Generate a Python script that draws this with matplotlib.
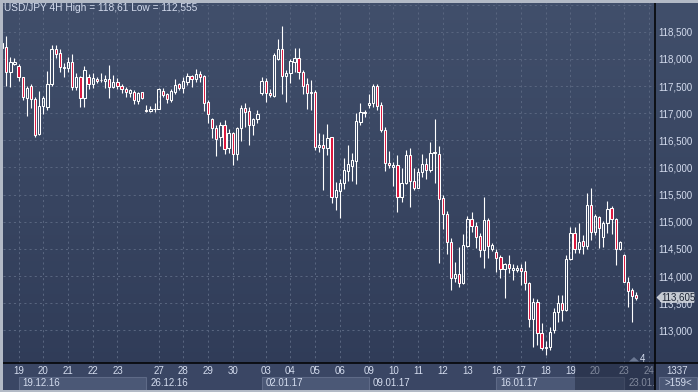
import numpy as np
import matplotlib
matplotlib.use("Agg")
import matplotlib.pyplot as plt
from matplotlib.patches import Rectangle, Polygon
from matplotlib.lines import Line2D
from matplotlib.colors import LinearSegmentedColormap

plt.rcParams['font.family'] = ['Liberation Sans', 'DejaVu Sans']

title = 'USD/JPY 4H High = 118,61 Low = 112,555'

# 4H candles, the first one is cut off by the left edge of the chart
first_bar = -1
opens = [118.205, 118.213, 117.752, 117.911, 117.863, 117.660, 117.285, 117.495, 117.261, 116.616,
         117.132, 117.119, 117.531, 118.181, 118.102, 117.826, 117.826, 117.942, 117.487, 117.660,
         117.274, 117.660, 117.531, 117.629, 117.616, 117.592, 117.629, 117.487, 117.579, 117.500,
         117.439, 117.377, 117.395, 117.229, 117.390, 117.058, 117.040, 117.071, 117.082, 117.408,
         117.353, 117.242, 117.395, 117.531, 117.458, 117.579, 117.684, 117.623, 117.721, 117.684,
         117.211, 116.887, 116.732, 116.555, 116.776, 116.353, 116.629, 116.242, 116.721, 117.089,
         117.045, 116.782, 116.892, 117.377, 117.598, 117.377, 117.325, 117.992, 118.176, 117.693,
         117.734, 117.948, 118.010, 117.763, 117.531, 117.366, 117.384, 116.386, 116.408, 116.353,
         116.555, 115.461, 115.572, 115.719, 115.940, 116.027, 116.124, 116.843, 117.008, 117.145,
         117.181, 117.500, 117.145, 116.690, 116.076, 116.014, 116.045, 115.450, 115.708, 116.224,
         115.750, 115.627, 115.922, 116.064, 115.953, 116.261, 116.248, 115.432, 115.137, 114.633,
         113.970, 114.032, 113.866, 114.559, 115.045, 114.927, 114.738, 114.480, 115.032, 114.493,
         114.449, 114.345, 114.124, 114.216, 114.112, 114.112, 114.143, 114.093, 113.866, 113.215,
         113.517, 112.946, 112.670, 112.699, 113.006, 113.333, 113.498, 113.375, 114.309, 114.787,
         114.498, 114.646, 114.553, 115.309, 114.806, 115.093, 114.725, 114.983, 115.248, 115.045,
         114.493, 114.388, 113.896, 113.743, 113.651]
highs = [118.292, 118.421, 118.040, 118.010, 117.900, 117.670, 117.500, 117.531, 117.303, 117.408,
         117.316, 117.782, 118.255, 118.255, 118.181, 117.929, 118.040, 118.084, 117.745, 117.690,
         117.874, 117.721, 117.734, 117.671, 117.745, 117.703, 117.881, 117.703, 117.642, 117.531,
         117.487, 117.445, 117.426, 117.395, 117.395, 117.150, 117.132, 117.181, 117.458, 117.458,
         117.377, 117.439, 117.623, 117.550, 117.671, 117.745, 117.703, 117.808, 117.782, 117.703,
         117.242, 116.916, 116.782, 116.843, 116.874, 116.708, 116.658, 116.739, 117.150, 117.193,
         117.108, 116.916, 117.058, 117.660, 117.647, 117.439, 118.102, 118.366, 118.610, 117.795,
         118.003, 118.200, 118.200, 117.795, 117.647, 117.611, 117.426, 116.635, 116.616, 116.795,
         116.566, 115.738, 115.782, 116.169, 116.414, 116.272, 116.997, 117.193, 117.058, 117.347,
         117.537, 117.537, 117.211, 116.739, 116.308, 116.106, 116.229, 115.984, 116.321, 116.353,
         115.984, 115.984, 116.242, 116.169, 116.474, 116.887, 116.395, 115.493, 115.198, 114.695,
         114.264, 114.541, 114.769, 115.106, 115.174, 115.001, 114.798, 115.450, 115.064, 114.603,
         114.493, 114.388, 114.246, 114.388, 114.216, 114.204, 114.216, 114.277, 113.896, 113.590,
         113.577, 113.130, 112.804, 113.067, 113.406, 113.651, 113.651, 114.388, 114.898, 114.898,
         114.983, 114.756, 115.524, 115.616, 115.143, 115.106, 115.014, 115.382, 115.290, 115.075,
         114.646, 114.401, 113.988, 113.774, 113.712]
lows = [118.200, 117.500, 117.476, 117.887, 117.592, 117.237, 116.953, 117.100, 116.566, 116.600,
        116.979, 117.058, 117.500, 118.010, 117.763, 117.660, 117.763, 117.426, 117.426, 117.108,
        117.119, 117.445, 117.458, 117.550, 117.568, 117.469, 117.274, 117.458, 117.439, 117.366,
        117.298, 117.292, 117.168, 117.168, 117.261, 117.016, 117.021, 117.016, 117.071, 117.292,
        117.193, 117.211, 117.353, 117.426, 117.366, 117.518, 117.487, 117.579, 117.579, 117.045,
        116.824, 116.537, 116.216, 116.401, 116.248, 116.266, 116.051, 116.137, 116.493, 116.739,
        116.414, 116.598, 116.813, 117.334, 117.211, 117.292, 117.292, 117.979, 117.353, 117.211,
        117.550, 117.763, 117.629, 117.353, 117.071, 117.058, 116.321, 116.285, 115.585, 116.229,
        115.340, 115.216, 115.069, 115.598, 115.756, 115.756, 115.695, 116.782, 116.935, 117.089,
        117.119, 117.058, 116.658, 115.940, 115.984, 115.658, 115.185, 115.369, 115.695, 115.277,
        115.585, 115.616, 115.819, 115.787, 115.922, 115.708, 114.246, 114.866, 114.401, 113.743,
        113.896, 113.793, 113.848, 114.541, 114.817, 114.511, 114.356, 114.154, 114.327, 114.467,
        114.080, 113.970, 113.590, 114.051, 113.927, 114.080, 113.835, 113.743, 113.067, 112.699,
        112.730, 112.638, 112.555, 112.638, 112.957, 113.159, 113.172, 113.360, 114.296, 114.430,
        114.430, 114.401, 114.498, 114.664, 114.756, 114.511, 114.541, 114.798, 114.775, 114.204,
        114.480, 113.890, 113.436, 113.159, 113.559]
closes = [118.286, 117.752, 117.937, 117.937, 117.660, 117.292, 117.469, 117.261, 116.598, 117.132,
          117.274, 117.531, 118.181, 118.084, 117.844, 117.855, 117.942, 117.476, 117.660, 117.274,
          117.795, 117.531, 117.642, 117.592, 117.605, 117.629, 117.487, 117.568, 117.506, 117.445,
          117.384, 117.426, 117.242, 117.377, 117.285, 117.034, 117.071, 117.077, 117.439, 117.340,
          117.255, 117.414, 117.518, 117.458, 117.592, 117.684, 117.623, 117.721, 117.671, 117.193,
          116.979, 116.721, 116.518, 116.776, 116.340, 116.629, 116.242, 116.721, 117.089, 117.027,
          116.782, 116.887, 116.984, 117.598, 117.377, 117.329, 118.071, 118.176, 117.693, 117.745,
          117.966, 118.010, 117.763, 117.506, 117.380, 117.384, 116.386, 116.408, 116.358, 116.537,
          115.461, 115.585, 115.719, 115.953, 116.064, 116.137, 116.856, 117.021, 117.027, 117.193,
          117.500, 117.132, 116.690, 116.076, 116.040, 116.045, 115.450, 115.708, 116.224, 115.750,
          115.627, 115.922, 116.064, 115.953, 116.261, 116.290, 115.414, 115.137, 114.633, 113.970,
          114.032, 113.866, 114.572, 115.045, 114.927, 114.725, 114.480, 115.032, 114.559, 114.572,
          114.327, 114.124, 114.222, 114.143, 114.154, 114.154, 114.093, 113.866, 113.215, 113.517,
          112.946, 112.670, 112.699, 112.975, 113.333, 113.498, 113.375, 114.314, 114.787, 114.493,
          114.633, 114.553, 115.309, 114.806, 115.106, 114.879, 114.983, 115.229, 115.045, 114.493,
          114.633, 113.896, 113.730, 113.638, 113.605]

# bar index where each trading day / week starts
day_labels = ['19', '20', '21', '22', '23', '27', '28', '29', '30', '03', '04', '05', '06',
              '09', '10', '11', '12', '13', '16', '17', '18', '19', '20', '23', '24']
day_bars = [3, 9, 15, 21, 27, 37, 43, 49, 55, 63, 69, 75, 81,
            88, 94, 100, 106, 112, 119, 125, 131, 137, 143, 150, 156]
week_labels = ['19.12.16', '26.12.16', '02.01.17', '09.01.17', '16.01.17', '23.01.17']
week_bars = [3, 34, 62, 88, 119, 150]

price_ticks = [113.0, 113.5, 114.0, 114.5, 115.0, 115.5, 116.0, 116.5, 117.0, 117.5, 118.0, 118.5]
grid_levels = [113.0, 113.5, 114.0, 114.5, 115.0, 115.5, 116.0, 116.5, 117.0, 117.5, 118.0, 118.5, 119.0]
last_price = 113.605
bars_count = '1337'
visible_bars = '>159<'

W, H = 698, 392
red = '#dc143c'
txt = '#d4dcee'
grid_col = '#58657f'


def fx(x):
    return x / W


def fy(y):
    return 1 - y / H


fig = plt.figure(figsize=(W / 100, H / 100), dpi=100)

# background gradient
bg = fig.add_axes([0, 0, 1, 1], zorder=-5)
cmap = LinearSegmentedColormap.from_list('bg', ['#2f3b57', '#414f6b'])
bg.imshow(np.linspace(0, 1, 256).reshape(-1, 1), aspect='auto', cmap=cmap,
          extent=[0, 1, 0, 1], origin='lower')
bg.set_xlim(0, 1)
bg.set_ylim(0, 1)
bg.axis('off')

# main chart
ax = fig.add_axes([fx(3), fy(363), fx(655) - fx(3), (363 - 3) / H], zorder=1)
ax.patch.set_alpha(0)
for s in ax.spines.values():
    s.set_visible(False)

o = np.array(opens)
h = np.array(highs)
l = np.array(lows)
c = np.array(closes)
x = np.arange(len(o)) + first_bar
top = np.maximum(o, c)
bot = np.minimum(o, c)
up = c >= o

for v in grid_levels:
    ax.axhline(v, color=grid_col, lw=0.75, dashes=(2, 3), zorder=0)
for d in day_bars:
    ax.axvline(d, color=grid_col, lw=0.75, dashes=(2, 3), zorder=0)

ax.vlines(x, top, h, color='white', lw=0.8, zorder=2)
ax.vlines(x, l, bot, color='white', lw=0.8, zorder=2)
faces = [(0, 0, 0, 0) if u else red for u in up]
ax.bar(x, top - bot, width=0.55, bottom=bot, color=faces, edgecolor='white',
       linewidth=0.75, zorder=3)

ax.set_xlim(-0.79, 157.54)
ax.set_ylim(112.399, 119.029)
ax.set_xticks([])
ax.yaxis.tick_right()
ax.set_yticks(price_ticks)
ax.set_yticklabels([f'{v:.3f}'.replace('.', ',') for v in price_ticks])
ax.tick_params(axis='y', length=0, pad=2.5, labelsize=7, labelcolor=txt)

fig.text(fx(4), fy(8), title, ha='left', va='center', fontsize=7.3, color=txt)

# time axis strip
fig.patches.append(Rectangle((0, fy(390)), 1, 27 / H, transform=fig.transFigure,
                             facecolor='#3a4664', edgecolor='none', zorder=-1))
bx = fig.add_axes([fx(3), fy(390), fx(655) - fx(3), 27 / H], zorder=2)
bx.set_xlim(ax.get_xlim())
bx.set_ylim(390, 363)
bx.axis('off')
for d, lab in zip(day_bars, day_labels):
    bx.text(d, 371.3, lab, ha='center', va='center', fontsize=7, color=txt, clip_on=True)
ends = week_bars[1:] + [week_bars[-1] + 6]
for k, (w0, w1, lab) in enumerate(zip(week_bars, ends, week_labels)):
    if k % 2 == 0:
        bx.add_patch(Rectangle((w0, 377), w1 - w0, 13, facecolor='#4b5876',
                               edgecolor='#5e6a87', lw=0.8))
    bx.text(w0 + 1, 383.2, lab, ha='left', va='center', fontsize=7, color=txt, clip_on=True)

# dark scroll area over the last days
fig.patches.append(Rectangle((fx(575), fy(390)), fx(655) - fx(575), 26 / H,
                             transform=fig.transFigure, facecolor='#1c2439',
                             alpha=0.45, edgecolor='none', zorder=5))

# separator lines and window frame
fig.add_artist(Line2D([fx(655), fx(655)], [fy(0), fy(390)], color='black', lw=1.1, zorder=6))
fig.add_artist(Line2D([fx(3), 1], [fy(363), fy(363)], color='black', lw=1.1, zorder=6))
for rect in [(0, fy(2.5), 1, 2.5 / H), (0, 0, fx(2.5), 1), (0, 0, 1, 2.5 / H)]:
    fig.patches.append(Rectangle(rect[:2], rect[2], rect[3], transform=fig.transFigure,
                                 facecolor='#b3bac6', edgecolor='none', zorder=7))

# current price tag (covers the label below it, as in the terminal)
py = 31.7 + (118.5 - last_price) * 54.3
tag = [(657, py), (662, py - 4.8), (694, py - 4.8), (694, py + 4.8), (662, py + 4.8)]
fig.patches.append(Polygon([(fx(a), fy(b)) for a, b in tag], closed=True,
                           transform=fig.transFigure, facecolor='#c5cad2',
                           edgecolor='#e2e5ea', lw=0.5, zorder=8))
fig.text(fx(678), fy(py), f'{last_price:.3f}'.replace('.', ','), ha='center', va='center',
         fontsize=7, color='#1b2333', zorder=9)

# small marker near the last bar
fig.patches.append(Polygon([(fx(629), fy(361.5)), (fx(634), fy(357)), (fx(639), fy(361.5))],
                           closed=True, transform=fig.transFigure, facecolor='#6b7893',
                           edgecolor='none', zorder=8))
fig.text(fx(642), fy(358.5), '4', ha='center', va='center', fontsize=7, color=txt, zorder=9)

# bottom right corner
fig.patches.append(Rectangle((fx(659), fy(390)), fx(697) - fx(659), 13 / H,
                             transform=fig.transFigure, facecolor='#4b5876',
                             edgecolor='#5e6a87', lw=0.8, zorder=4))
fig.text(fx(677), fy(370.8), bars_count, ha='center', va='center', fontsize=7, color=txt, zorder=9)
fig.text(fx(678), fy(383.2), visible_bars, ha='center', va='center', fontsize=7, color=txt, zorder=9)

fig.savefig('out.png', dpi=100)
